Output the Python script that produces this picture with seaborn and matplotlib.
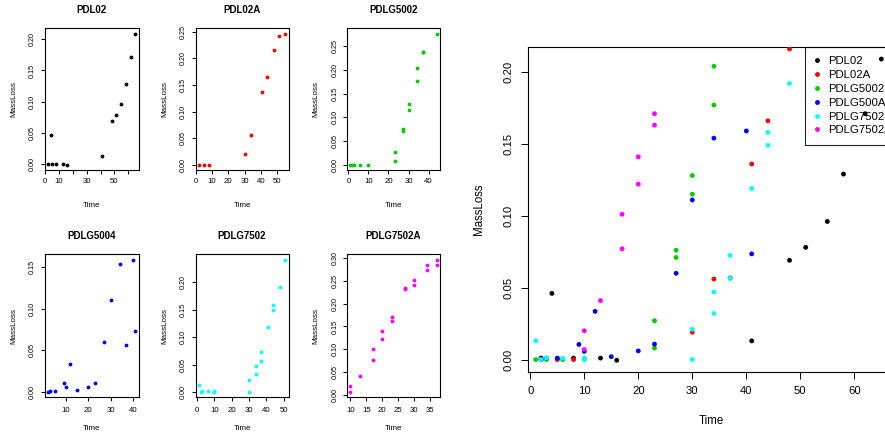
import numpy as np
import pandas as pd
import matplotlib
matplotlib.use("Agg")
import matplotlib.pyplot as plt
from matplotlib.lines import Line2D
import seaborn as sns

# ---------------- data ----------------
series_names = ["PDL02", "PDL02A", "PDLG5002", "PDLG5004", "PDLG7502", "PDLG7502A"]
legend_labels = ["PDL02", "PDL02A", "PDLG5002", "PDLG500A", "PDLG7502", "PDLG7502A"]
series_colors = ["#000000", "#FF0000", "#00CD00", "#0000FF", "#00FFFF", "#FF00FF"]

PDL02_time = [2, 4, 5, 8, 13, 16, 41, 48, 51, 55, 58, 62, 65]
PDL02_mass = [0.001, 0.046, 0.0005, 0.001, 0.001, -0.0005, 0.013, 0.069, 0.078, 0.096, 0.129, 0.171, 0.209]

PDL02A_time = [2, 5, 8, 30, 34, 41, 44, 48, 51, 55]
PDL02A_mass = [0.0, 0.0, 0.0, 0.019, 0.056, 0.136, 0.166, 0.216, 0.243, 0.247]

PDLG5002_time = [1, 2, 3, 6, 10, 23, 23, 27, 27, 30, 30, 34, 34, 37, 37, 44]
PDLG5002_mass = [0.0, 0.0, 0.0, 0.0, 0.0, 0.008, 0.027, 0.071, 0.076, 0.115, 0.128,
                 0.177, 0.204, 0.237, 0.239, 0.277]

PDLG5004_time = [2, 3, 5, 9, 10, 12, 15, 20, 23, 27, 30, 34, 37, 40, 41]
PDLG5004_mass = [0.0, 0.001, 0.001, 0.0105, 0.0057, 0.0335, 0.002, 0.006, 0.0107,
                 0.060, 0.111, 0.154, 0.0567, 0.159, 0.0735]

PDLG7502_time = [1, 2, 3, 6, 10, 10, 30, 30, 34, 34, 37, 37, 41, 44, 44, 48, 51]
PDLG7502_mass = [0.013, 0.0, 0.001, 0.001, 0.0, 0.001, 0.021, 0.0, 0.032, 0.047,
                 0.0565, 0.0725, 0.119, 0.149, 0.158, 0.192, 0.241]

PDLG7502A_time = [10, 10, 13, 17, 17, 20, 20, 23, 23, 27, 27, 30, 30, 34, 34, 37, 37]
PDLG7502A_mass = [0.007, 0.020, 0.041, 0.077, 0.101, 0.122, 0.141, 0.163, 0.171,
                  0.232, 0.234, 0.241, 0.252, 0.274, 0.285, 0.285, 0.296]

# tick values / labels for each small panel
xticks_small = [[0, 10, 20, 30, 40, 50, 60], [0, 10, 20, 30, 40, 50], [0, 10, 20, 30, 40],
                [10, 20, 30, 40], [0, 10, 20, 30, 40, 50], [10, 15, 20, 25, 30, 35]]
xticklabels_small = [["0", "10", "", "30", "", "50", ""], ["0", "10", "20", "30", "40", "50"],
                     ["0", "10", "20", "30", "40"], ["10", "20", "30", "40"],
                     ["0", "10", "20", "30", "40", "50"], ["10", "15", "20", "25", "30", "35"]]
yticks_small = [[0.00, 0.05, 0.10, 0.15, 0.20], [0.00, 0.05, 0.10, 0.15, 0.20, 0.25],
                [0.00, 0.05, 0.10, 0.15, 0.20, 0.25], [0.00, 0.05, 0.10, 0.15],
                [0.00, 0.05, 0.10, 0.15, 0.20], [0.00, 0.05, 0.10, 0.15, 0.20, 0.25, 0.30]]
xticks_big = [0, 10, 20, 30, 40, 50, 60]
yticks_big = [0.00, 0.05, 0.10, 0.15, 0.20]

times = [PDL02_time, PDL02A_time, PDLG5002_time, PDLG5004_time, PDLG7502_time, PDLG7502A_time]
masses = [PDL02_mass, PDL02A_mass, PDLG5002_mass, PDLG5004_mass, PDLG7502_mass, PDLG7502A_mass]

df = pd.concat([pd.DataFrame({"Time": t, "MassLoss": m, "Series": n})
                for t, m, n in zip(times, masses, series_names)], ignore_index=True)

# ---------------- style ----------------
sns.set_style("ticks")
plt.rcParams['font.family'] = ['Liberation Sans', 'DejaVu Sans']
plt.rcParams['axes.edgecolor'] = 'black'
plt.rcParams['xtick.color'] = 'black'
plt.rcParams['ytick.color'] = 'black'
plt.rcParams['text.color'] = 'black'
plt.rcParams['axes.labelcolor'] = 'black'

W, H = 885, 436
fig = plt.figure(figsize=(W / 100, H / 100), dpi=100)
fig.patch.set_facecolor('white')


def add_px_axes(l, t, r, b):
    return fig.add_axes([l / W, 1 - b / H, (r - l) / W, (b - t) / H])


def r_range(v):
    lo, hi = min(v), max(v)
    d = 0.04 * (hi - lo)
    return lo - d, hi + d


col_lr = [(44.5, 138.7), (195.5, 288.7), (347.0, 440.0)]
row_tb = [(28.3, 169.8), (254.3, 397.3)]
title_off = [18.3, 18.5]
xlab_off = [36.0, 31.0]
xtick_pad = [3.2, 3.8]

for i, name in enumerate(series_names):
    r, c = divmod(i, 3)
    l, rr = col_lr[c]
    t, b = row_tb[r]
    ax = add_px_axes(l, t, rr, b)
    sub = df[df["Series"] == name]
    sns.scatterplot(data=sub, x="Time", y="MassLoss", color=series_colors[i], s=7.5,
                    linewidth=0, ax=ax, legend=False)
    ax.set_xlim(*r_range(times[i]))
    ax.set_ylim(*r_range(masses[i]))
    ax.set_xticks(xticks_small[i], labels=xticklabels_small[i], fontsize=5.6)
    ax.set_yticks(yticks_small[i], labels=[f"{v:.2f}" for v in yticks_small[i]],
                  fontsize=5.2, rotation=90, va='center')
    ax.tick_params(axis='x', direction='out', length=3.0, width=0.7, pad=xtick_pad[r])
    ax.tick_params(axis='y', direction='out', length=3.0, width=0.7, pad=3.2)
    for sp in ax.spines.values():
        sp.set_visible(True)
        sp.set_linewidth(0.8)
        sp.set_color('black')
    hpx = b - t
    wpx = rr - l
    ax.set_xlabel("Time", fontsize=5.8)
    ax.xaxis.set_label_coords(0.5, -xlab_off[r] / hpx)
    ax.xaxis.label.set_va('center')
    ax.set_ylabel("MassLoss", fontsize=5.8)
    ax.yaxis.set_label_coords(-31.0 / wpx, 0.5)
    ax.yaxis.label.set_va('center')
    ax.set_title(name, fontsize=7.0, fontweight='bold', y=1 + title_off[r] / hpx,
                 va='center', pad=0)

# ---------------- big combined panel ----------------
bl, bt, bb = 527.5, 47.0, 372.3
xlo, xhi = r_range(PDL02_time)
ylo, yhi = r_range(PDL02_mass)
br = bl + (xhi - xlo) * 5.4
axb = add_px_axes(bl, bt, br, bb)
sns.scatterplot(data=df, x="Time", y="MassLoss", hue="Series", hue_order=series_names,
                palette=series_colors, s=12, linewidth=0, ax=axb, legend=False, zorder=3)
axb.set_xlim(xlo, xhi)
axb.set_ylim(ylo, yhi)
axb.set_xticks(xticks_big, labels=[str(v) for v in xticks_big], fontsize=8.1)
axb.set_yticks(yticks_big, labels=[f"{v:.2f}" for v in yticks_big], fontsize=8.1,
               rotation=90, va='center')
axb.tick_params(axis='both', direction='out', length=5.0, width=0.7, pad=5.0)
for sp in axb.spines.values():
    sp.set_visible(True)
    sp.set_linewidth(0.8)
    sp.set_color('black')
bh = bb - bt
bw = br - bl
axb.set_xlabel("Time", fontsize=8.3)
axb.xaxis.set_label_coords((711 - bl) / bw, -48.5 / bh)
axb.xaxis.label.set_va('center')
axb.set_ylabel("MassLoss", fontsize=8.3)
axb.yaxis.set_label_coords(-48.5 / bw, 0.5)
axb.yaxis.label.set_va('center')

handles = [Line2D([], [], linestyle='none', marker='o', markersize=3.5,
                  markerfacecolor=col, markeredgewidth=0) for col in series_colors]
leg = axb.legend(handles, legend_labels, loc='upper right', bbox_to_anchor=(1 + 6.0 / bw, 1),
                 bbox_transform=axb.transAxes, borderaxespad=0, fontsize=8.2,
                 frameon=True, fancybox=False, framealpha=1, handlelength=0.5,
                 handletextpad=0.75, labelspacing=0.34, borderpad=0.8)
leg.get_frame().set_facecolor('none')
leg.get_frame().set_edgecolor('#222222')
leg.get_frame().set_linewidth(0.8)
leg.set_zorder(1)

fig.savefig("out.png", dpi=100, facecolor='white')
